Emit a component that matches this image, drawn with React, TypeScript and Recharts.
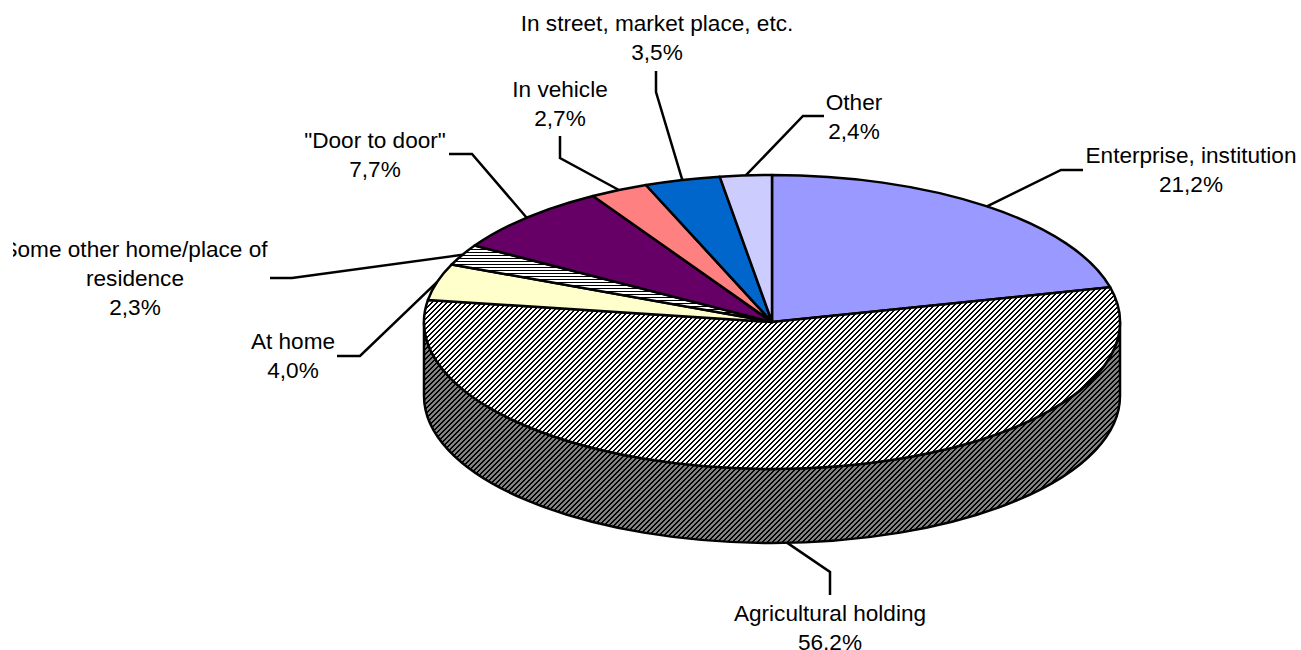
import { PieChart, Pie } from "recharts";

const names = [
  "Enterprise, institution",
  "Agricultural holding",
  "At home",
  "Some other home/place of residence",
  '"Door to door"',
  "In vehicle",
  "In street, market place, etc.",
  "Other",
];
const shares = [21.2, 56.2, 4.0, 2.3, 7.7, 2.7, 3.5, 2.4];
const fills = [
  "#9999ff",
  "url(#agriTop)",
  "#ffffcc",
  "url(#otherHome)",
  "#660066",
  "#ff8080",
  "#0066cc",
  "#ccccff",
];

// label text is wrapped by hand, same as the original chart
const labelLines = [
  ["Enterprise, institution"],
  ["Agricultural holding"],
  ["At home"],
  ["Some other home/place of", "residence"],
  ['"Door to door"'],
  ["In vehicle"],
  ["In street, market place, etc."],
  ["Other"],
];

// leader elbow, leader end, text centre x, first baseline
const labelLayout = [
  { elbow: [1061, 170], end: [1083, 170], x: 1191, y: 163 },
  { elbow: [830, 572], end: [830, 595], x: 830, y: 621 },
  { elbow: [360, 356], end: [337, 356], x: 293, y: 349 },
  { elbow: [292, 278], end: [270, 278], x: 135, y: 257 },
  { elbow: [472, 154], end: [449, 154], x: 375, y: 148 },
  { elbow: [560, 158], end: [560, 136], x: 560, y: 97 },
  { elbow: [656, 92], end: [656, 71], x: 657, y: 31 },
  { elbow: [803, 116], end: [824, 116], x: 854, y: 110 },
];

const WIDTH = 1301;
const HEIGHT = 650;
const CX = 772;
const CY = 322;
const RX = 348;
const TILT = 147 / 348;
const DEPTH = 74;
const LINE = 29;
const FONT = 22.6;
const STROKE = 2.5;

const rad = Math.PI / 180;
const chartData = names.map((name, i) => ({ name, value: shares[i], fill: fills[i] }));

function rim(cx: number, cy: number, r: number, deg: number) {
  return [cx + r * Math.cos(deg * rad), cy - r * TILT * Math.sin(deg * rad)];
}

// flat sector on an ellipse, plus the side wall for whatever faces the viewer
function TiltedSector(props: any) {
  const { cx, cy, outerRadius: r, startAngle, endAngle, fill } = props;
  const ry = r * TILT;
  const [sx, sy] = rim(cx, cy, r, startAngle);
  const [ex, ey] = rim(cx, cy, r, endAngle);
  const large = Math.abs(startAngle - endAngle) > 180 ? 1 : 0;
  const wallFrom = Math.min(startAngle, 0);
  const wallTo = Math.max(endAngle, -180);
  let wall = null;
  if (wallFrom > wallTo) {
    const [ax, ay] = rim(cx, cy, r, wallFrom);
    const [bx, by] = rim(cx, cy, r, wallTo);
    wall = (
      <path
        d={`M${ax},${ay} A${r},${ry} 0 0 1 ${bx},${by} L${bx},${by + DEPTH} A${r},${ry} 0 0 0 ${ax},${ay + DEPTH} Z`}
        fill="url(#agriSide)"
        stroke="#000"
        strokeWidth={STROKE}
      />
    );
  }
  return (
    <g>
      {wall}
      <path
        d={`M${cx},${cy} L${sx},${sy} A${r},${ry} 0 ${large} 1 ${ex},${ey} Z`}
        fill={fill}
        stroke="#000"
        strokeWidth={STROKE}
        strokeLinejoin="round"
      />
    </g>
  );
}

function SliceLabel(props: any) {
  const { cx, cy, outerRadius: r, midAngle, index } = props;
  const layout = labelLayout[index];
  let [ax, ay] = rim(cx, cy, r, midAngle);
  if (Math.sin(midAngle * rad) < 0) ay += DEPTH;
  const lines = [...labelLines[index], shares[index].toFixed(1).replace(".", ",") + "%"];
  return (
    <g>
      <polyline
        points={`${ax},${ay} ${layout.elbow.join(",")} ${layout.end.join(",")}`}
        fill="none"
        stroke="#000"
        strokeWidth={STROKE}
      />
      <text
        x={layout.x}
        y={layout.y}
        textAnchor="middle"
        fontFamily="Liberation Sans, Arial, sans-serif"
        fontSize={FONT}
        fill="#000"
        clipPath="url(#labelClip)"
      >
        {lines.map((line, i) => (
          <tspan key={i} x={layout.x} y={layout.y + i * LINE}>
            {line}
          </tspan>
        ))}
      </text>
    </g>
  );
}

// pixel-stepped diagonal, the original hatch is not antialiased
function Hatch({ id, paper }: { id: string; paper: string }) {
  return (
    <pattern id={id} width="5" height="5" patternUnits="userSpaceOnUse">
      <rect width="5" height="5" fill={paper} shapeRendering="crispEdges" />
      <path
        d="M3,0h2v1h-2z M2,1h2v1h-2z M1,2h2v1h-2z M0,3h2v1h-2z M4,4h1v1h-1z M0,4h1v1h-1z"
        fill="#000"
        shapeRendering="crispEdges"
      />
    </pattern>
  );
}

export default function App() {
  return (
    <div style={{ position: "absolute", left: 0, top: 0, width: WIDTH, height: HEIGHT, background: "#fff" }}>
      <PieChart width={WIDTH} height={HEIGHT} margin={{ top: 0, right: 0, bottom: 0, left: 0 }}>
        <defs>
          <Hatch id="agriTop" paper="#fff" />
          <Hatch id="agriSide" paper="#808080" />
          <pattern id="otherHome" width="3" height="3" patternUnits="userSpaceOnUse">
            <rect width="3" height="3" fill="#fff" shapeRendering="crispEdges" />
            <rect width="3" height="1" fill="#000" shapeRendering="crispEdges" />
          </pattern>
          <clipPath id="labelClip" clipPathUnits="userSpaceOnUse">
            <rect x={13} y={0} width={WIDTH - 13} height={HEIGHT} />
          </clipPath>
        </defs>
        <Pie
          data={chartData}
          dataKey="value"
          nameKey="name"
          cx={CX}
          cy={CY}
          innerRadius={0}
          outerRadius={RX}
          startAngle={90}
          endAngle={-270}
          paddingAngle={0}
          shape={TiltedSector}
          label={SliceLabel}
          labelLine={false}
          isAnimationActive={false}
        />
      </PieChart>
    </div>
  );
}
